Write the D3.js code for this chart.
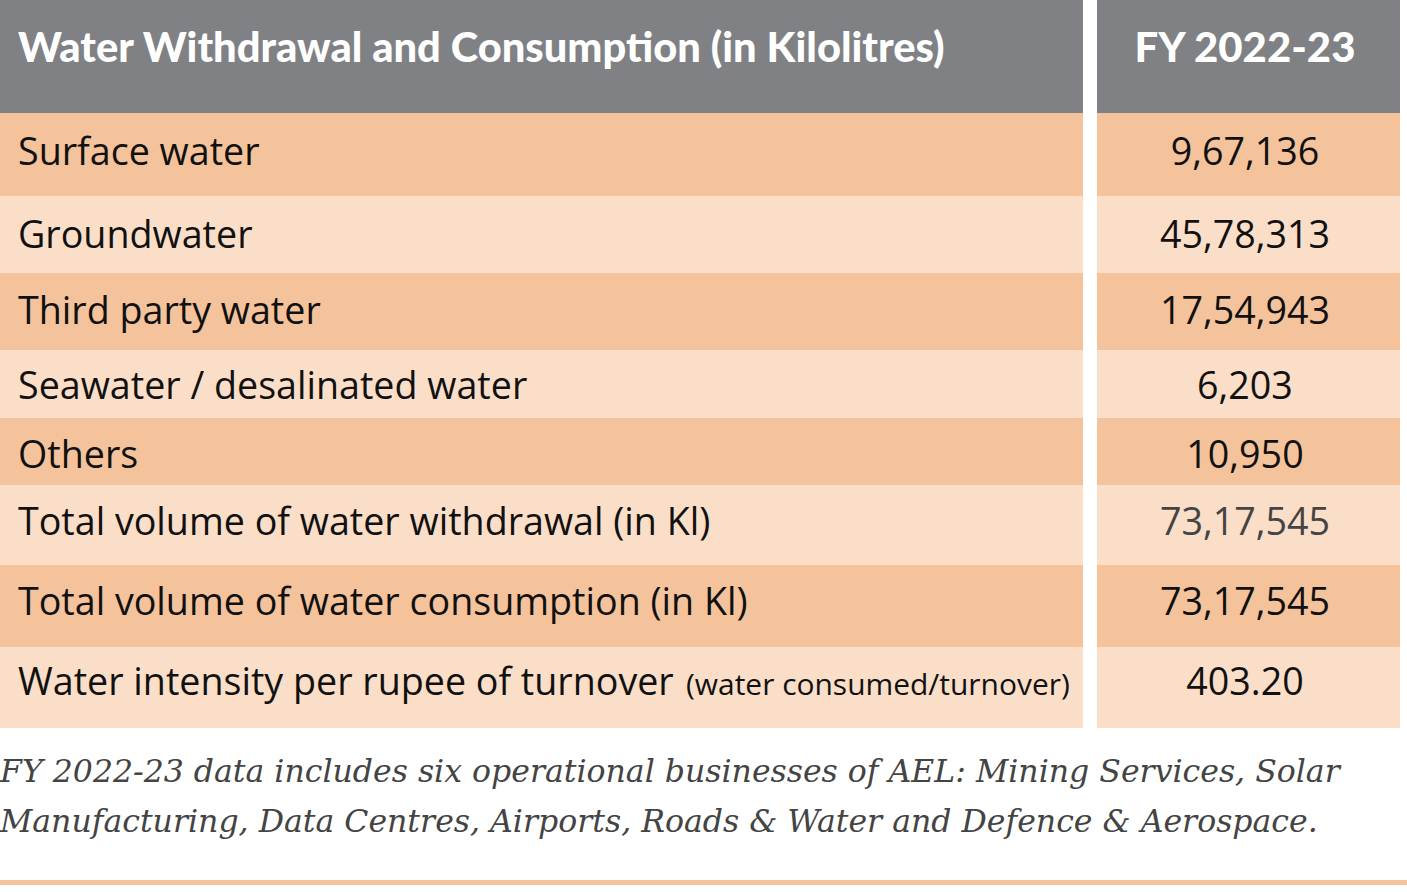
<!DOCTYPE html>
<html><head><meta charset="utf-8">
<script src="https://cdn.jsdelivr.net/npm/d3@7"></script>
<style>
html,body{margin:0;padding:0;background:#fff;}
svg{display:block;}
</style></head>
<body>
<svg id="chart" width="1407" height="892"></svg>
<script>
// ---- data ----
const headerLabel = "Water Withdrawal and Consumption (in Kilolitres)";
const headerYear = "FY 2022-23";
const categories = [
  "Surface water",
  "Groundwater",
  "Third party water",
  "Seawater / desalinated water",
  "Others",
  "Total volume of water withdrawal (in Kl)",
  "Total volume of water consumption (in Kl)",
  "Water intensity per rupee of turnover"
];
const categoryNotes = ["", "", "", "", "", "", "", "(water consumed/turnover)"];
const values = ["9,67,136", "45,78,313", "17,54,943", "6,203", "10,950", "73,17,545", "73,17,545", "403.20"];
const footnoteLines = [
  "FY 2022-23 data includes six operational businesses of AEL: Mining Services, Solar",
  "Manufacturing, Data Centres, Airports, Roads & Water and Defence & Aerospace."
];

// ---- layout (not data) ----
const rowEdges = [113, 196, 273, 350, 418, 485, 565, 647, 728];
const rowBaselines = [165, 248, 324, 399, 468, 535, 615, 695];
const colLeft = [0, 1083];
const colRight = [1097, 1400];
const valueCenter = 1245;
const darkFill = "#f5c39b", lightFill = "#fbdec8", headFill = "#808184";
const sans = "'Open Sans', Lato, sans-serif";
const headSans = "Lato, 'Open Sans', sans-serif";

const svg = d3.select("#chart");
const rowY = d3.scaleOrdinal().domain(categories).range(rowEdges.slice(0, -1));
const rowH = d3.scaleOrdinal().domain(categories).range(rowEdges.slice(1).map((e, i) => e - rowEdges[i]));
const rowBase = d3.scaleOrdinal().domain(categories).range(rowBaselines);

function fit(sel, target) {
  const fs = +sel.attr("font-size");
  const w = sel.node().getComputedTextLength();
  const nfs = w > 0 ? fs * target / w : fs;
  sel.attr("font-size", nfs);
  return nfs;
}

// header
svg.append("rect").attr("x", colLeft[0]).attr("y", 0).attr("width", colLeft[1] - colLeft[0]).attr("height", rowEdges[0]).attr("fill", headFill);
svg.append("rect").attr("x", colRight[0]).attr("y", 0).attr("width", colRight[1] - colRight[0]).attr("height", rowEdges[0]).attr("fill", headFill);
const h1 = svg.append("text").attr("x", 18).attr("y", 62).attr("fill", "#fff")
  .attr("font-family", headSans).attr("font-weight", 900).attr("font-size", 40).text(headerLabel);
fit(h1, 927);
const h2 = svg.append("text").attr("x", valueCenter).attr("y", 62).attr("text-anchor", "middle").attr("fill", "#fff")
  .attr("font-family", headSans).attr("font-weight", 900).attr("font-size", 40).text(headerYear);
fit(h2, 221);

// rows
const rows = svg.selectAll("g.row").data(categories).join("g").attr("class", "row");
rows.append("rect").attr("x", colLeft[0]).attr("y", d => rowY(d)).attr("width", colLeft[1] - colLeft[0]).attr("height", d => rowH(d))
  .attr("fill", (d, i) => i % 2 === 0 ? darkFill : lightFill);
rows.append("rect").attr("x", colRight[0]).attr("y", d => rowY(d)).attr("width", colRight[1] - colRight[0]).attr("height", d => rowH(d))
  .attr("fill", (d, i) => i % 2 === 0 ? darkFill : lightFill);

// body font size from a reference label
const probe = svg.append("text").attr("font-family", sans).attr("font-size", 36).text(categories[6]);
const bodySize = fit(probe, 730);
probe.remove();

rows.append("text").attr("x", 18).attr("y", d => rowBase(d))
  .attr("font-family", sans).attr("font-size", bodySize).attr("fill", "#111").text(d => d);

// small notes after labels
svg.selectAll("text.catnote").data(categories.filter((d, i) => categoryNotes[i])).join("text").attr("class", "catnote")
  .attr("x", 686).attr("y", d => rowBase(d))
  .attr("font-family", sans).attr("font-size", 28).attr("fill", "#111")
  .text(d => categoryNotes[categories.indexOf(d)])
  .each(function () { fit(d3.select(this), 384); });

rows.append("text").attr("x", valueCenter).attr("y", d => rowBase(d))
  .attr("text-anchor", "middle").attr("font-family", sans).attr("font-size", bodySize)
  .attr("fill", (d, i) => i === 5 ? "#444" : "#111").text((d, i) => values[i]);

// footnote
const notes = svg.selectAll("text.note").data(footnoteLines).join("text").attr("class", "note")
  .attr("x", 0).attr("y", (d, i) => 782 + i * 50)
  .attr("font-family", "'DejaVu Serif', serif").attr("font-style", "italic").attr("font-size", 31).attr("fill", "#444")
  .text(d => d);
const fnSize = fit(d3.select(notes.nodes()[0]), 1340);
notes.attr("font-size", fnSize);

svg.append("rect").attr("x", 0).attr("y", 880).attr("width", 1407).attr("height", 5).attr("fill", darkFill);
</script>
</body></html>
